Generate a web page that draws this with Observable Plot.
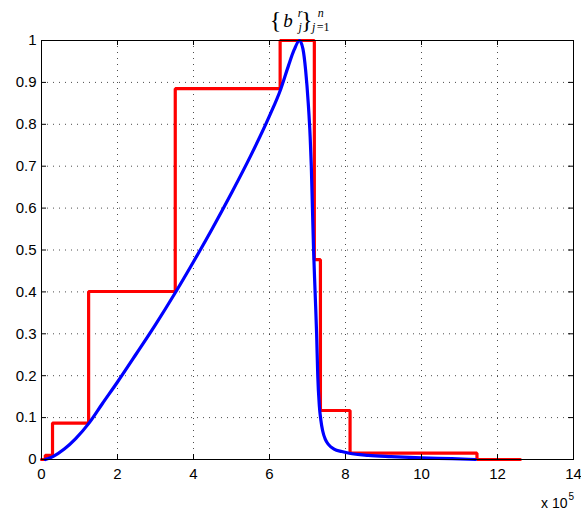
<!DOCTYPE html>
<html>
<head>
<meta charset="utf-8">
<script src="https://cdn.jsdelivr.net/npm/d3@7"></script>
<script src="https://cdn.jsdelivr.net/npm/@observablehq/plot@0.6"></script>
<style>
  body { margin: 0; background: #fff; }
  #chart svg { display: block; }
</style>
</head>
<body>
<div id="chart"></div>
<script>
// ---- data (x in units of 10^5) ----
const xTicks = [0, 2, 4, 6, 8, 10, 12, 14];
const yTicks = [0, 0.1, 0.2, 0.3, 0.4, 0.5, 0.6, 0.7, 0.8, 0.9, 1];
const xGrid = [2, 4, 6, 8, 10, 12];
const yGrid = [0.1, 0.2, 0.3, 0.4, 0.5, 0.6, 0.7, 0.8, 0.9];

// red step function b_j^r (step-after)
const redX = [0, 0.1, 0.29, 1.24, 3.52, 6.28, 7.18, 7.34, 8.12, 11.46, 12.6];
const redY = [0, 0.01, 0.087, 0.401, 0.885, 1.0, 0.477, 0.117, 0.015, 0, 0];

// blue smooth curve
const blueX = [0.1, 0.3, 0.6, 0.9, 1.26, 1.6, 2.0, 2.5, 3.0, 3.5, 4.0, 4.5, 5.0, 5.5, 6.0, 6.3, 6.5, 6.65, 6.79,
               6.88, 6.95, 7.02, 7.07, 7.1, 7.13, 7.16, 7.2, 7.24, 7.27, 7.31, 7.35, 7.4, 7.47, 7.55, 7.7, 7.9, 8.1,
               8.6, 9.2, 10.0, 10.8, 11.42];
const blueY = [0, 0.007, 0.025, 0.05, 0.088, 0.133, 0.185, 0.253, 0.322, 0.395, 0.472, 0.552, 0.636, 0.724, 0.82, 0.885, 0.94, 0.978, 1.0,
               0.98, 0.93, 0.85, 0.77, 0.7, 0.6, 0.5, 0.4, 0.3, 0.2, 0.13, 0.095, 0.068, 0.048, 0.036, 0.025, 0.019, 0.015,
               0.01, 0.007, 0.004, 0.002, 0];

const red = redX.map((x, i) => ({x, y: redY[i]}));
const blue = blueX.map((x, i) => ({x, y: blueY[i]}));

const W = 581, H = 510, mL = 41, mR = 8, mT = 40, mB = 51;
const fw = W - mL - mR, fh = H - mT - mB;

const chart = Plot.plot({
  width: W, height: H,
  marginLeft: mL, marginRight: mR, marginTop: mT, marginBottom: mB,
  x: {domain: [0, 14]},
  y: {domain: [0, 1]},
  style: {fontFamily: "'Liberation Sans', Arial, sans-serif", fontSize: "15px", background: "#fff", color: "#000", overflow: "visible"},
  marks: [
    Plot.ruleX(xGrid, {x: d => d, stroke: "#000", strokeOpacity: 0.7, strokeDasharray: "1,5"}),
    Plot.ruleY(yGrid, {y: d => d, stroke: "#000", strokeOpacity: 0.7, strokeDasharray: "1,5"}),
    Plot.line(red, {x: "x", y: "y", curve: "step-after", stroke: "#ff0000", strokeWidth: 3.2, strokeLinejoin: "miter"}),
    Plot.line(blue, {x: "x", y: "y", curve: "monotone-x", stroke: "#0000ff", strokeWidth: 3.2}),
    Plot.frame({stroke: "#000"}),
    Plot.tickX(xTicks, {x: d => d, insetTop: fh - 5, stroke: "#000"}),
    Plot.tickX(xTicks, {x: d => d, insetBottom: fh - 5, stroke: "#000"}),
    Plot.tickY(yTicks, {y: d => d, insetRight: fw - 5, stroke: "#000"}),
    Plot.tickY(yTicks, {y: d => d, insetLeft: fw - 5, stroke: "#000"}),
    Plot.axisX({ticks: xTicks, tickSize: 0, tickPadding: 9, tickFormat: d => String(d), label: null}),
    Plot.axisY({ticks: yTicks, tickSize: 0, tickPadding: 5, tickFormat: d => String(d), label: null}),
    Plot.text(["x 10"], {text: d => d, frameAnchor: "bottom-right", textAnchor: "end", lineAnchor: "bottom", dx: -6, dy: 48, fontSize: 14}),
    Plot.text(["5"], {text: d => d, frameAnchor: "bottom-right", textAnchor: "start", lineAnchor: "bottom", dx: -5, dy: 40, fontSize: 10})
  ]
});
document.getElementById("chart").appendChild(chart);

// ---- title {b_j^r}_{j=1}^n ----
const svg = d3.select(chart);
const g = svg.append("g").attr("font-family", "'Liberation Serif', 'DejaVu Serif', serif").attr("fill", "#000");
function piece(txt, size, italic, x, y) {
  const t = g.append("text").attr("x", x).attr("y", y).style("font-size", size + "px")
    .attr("font-style", italic ? "italic" : "normal").text(txt);
  return t.node().getComputedTextLength();
}
const base = 26.5, supY = 17, subY = 30.5;
let cx = 0;
cx += piece("{", 24, false, cx, base + 1.5) + 1;
cx += piece("b", 19, true, cx, base) + 2.5;
let w1 = piece("r", 12, true, cx, supY);
let w2 = piece("j", 12, true, cx, subY);
cx += Math.max(w1, w2) + 2;
cx += piece("}", 24, false, cx, base + 1.5) + 2.5;
w1 = piece("n", 12, true, cx, supY);
// subscript j=1 as one text element (italic j, upright =1)
const sub = g.append("text").attr("x", cx).attr("y", subY).style("font-size", "12px");
sub.append("tspan").attr("font-style", "italic").text("j");
sub.append("tspan").attr("dx", 1.5).text("=1");
const wsub = sub.node().getComputedTextLength() + 1.5;
cx += Math.max(w1, wsub);
const center = mL + fw / 2;
g.attr("transform", `translate(${center - cx / 2},0)`);
</script>
</body>
</html>
